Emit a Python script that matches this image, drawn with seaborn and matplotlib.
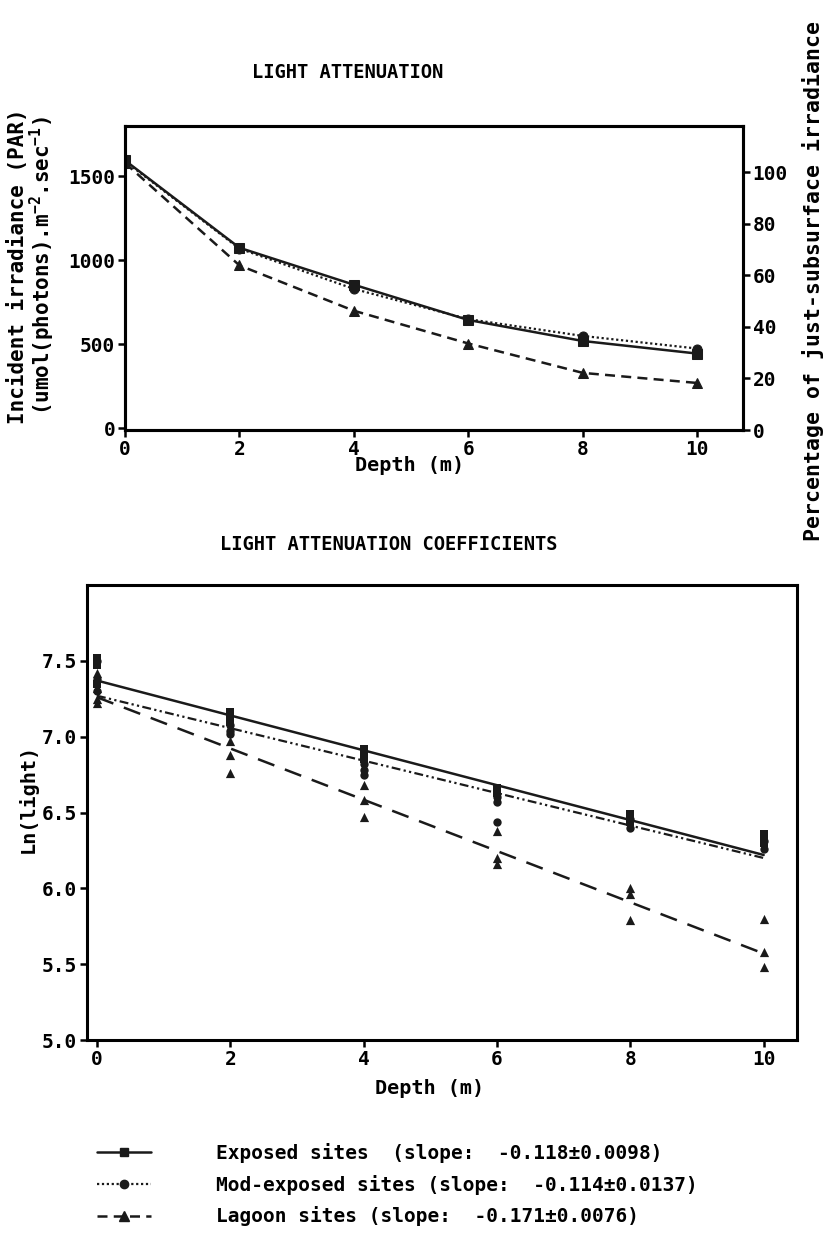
import seaborn as sns
import matplotlib.pyplot as plt
from matplotlib.lines import Line2D

# top panel: irradiance vs depth
depth = [0, 2, 4, 6, 8, 10]
exposed_par = [1595, 1075, 855, 645, 520, 445]
modexp_par = [1590, 1070, 830, 650, 550, 475]
lagoon_par = [1580, 970, 700, 505, 330, 270]

# bottom panel: ln(light) readings
exposed_depth = [0, 0, 0, 2, 2, 2, 4, 4, 4, 6, 6, 8, 8, 10, 10, 10]
exposed_ln = [7.52, 7.47, 7.35, 7.16, 7.13, 7.10, 6.92, 6.88, 6.85,
              6.66, 6.63, 6.49, 6.44, 6.36, 6.33, 6.30]
modexp_depth = [0, 0, 0, 2, 2, 2, 4, 4, 4, 6, 6, 6, 8, 8, 10, 10]
modexp_ln = [7.50, 7.38, 7.30, 7.08, 7.04, 7.02, 6.82, 6.78, 6.75,
             6.60, 6.57, 6.44, 6.46, 6.40, 6.31, 6.26]
lagoon_depth = [0, 0, 0, 0, 2, 2, 2, 4, 4, 4, 6, 6, 6, 8, 8, 8, 10, 10, 10]
lagoon_ln = [7.42, 7.32, 7.25, 7.22, 6.97, 6.88, 6.76, 6.68, 6.58, 6.47,
             6.38, 6.20, 6.16, 6.00, 5.96, 5.79, 5.80, 5.58, 5.48]

# fitted regression lines (end points)
fit_depth = [0, 10]
exposed_fit = [7.37, 6.22]
modexp_fit = [7.27, 6.20]
lagoon_fit = [7.26, 5.57]

legend_labels = ['Exposed sites  (slope:  -0.118\u00b10.0098)',
                 'Mod-exposed sites (slope:  -0.114\u00b10.0137)',
                 'Lagoon sites (slope:  -0.171\u00b10.0076)']

sns.set_theme(style='ticks')
plt.rcParams['font.family'] = ['DejaVu Sans Mono']
plt.rcParams['font.weight'] = 'bold'
plt.rcParams['axes.labelweight'] = 'bold'
plt.rcParams['mathtext.default'] = 'regular'
plt.rcParams['axes.linewidth'] = 2.2
plt.rcParams['xtick.major.width'] = 1.8
plt.rcParams['ytick.major.width'] = 1.8
plt.rcParams['xtick.major.size'] = 5
plt.rcParams['ytick.major.size'] = 5
for key in ['xtick.color', 'ytick.color', 'axes.edgecolor', 'text.color', 'axes.labelcolor']:
    plt.rcParams[key] = 'black'

fig = plt.figure(figsize=(8.27, 12.47), dpi=100)
W, H = 827, 1247

def px_axes(l, t, r, b):
    return fig.add_axes([l / W, 1 - b / H, (r - l) / W, (b - t) / H])

lab_size = 14.5
tick_size = 14

# ---- top chart ----
ax1 = px_axes(125, 126, 743, 430)
sns.lineplot(x=depth, y=exposed_par, ax=ax1, color='k', lw=1.8, marker='s', ms=6.5, mec='k')
sns.lineplot(x=depth, y=modexp_par, ax=ax1, color='k', lw=1.6, linestyle=(0, (1, 1.2)),
             marker='o', ms=6.5, mec='k')
sns.lineplot(x=depth, y=lagoon_par, ax=ax1, color='k', lw=1.8, linestyle=(0, (4, 2.5)),
             marker='^', ms=7, mec='k')
ax1.set_xlim(0, 10.8)
ax1.set_ylim(-10, 1800)
ax1.set_xticks(depth)
ax1.set_yticks([0, 500, 1000, 1500])
ax1.tick_params(labelsize=tick_size, pad=2)
ax1.set_xlabel('Depth (m)', fontsize=lab_size)
ax1.xaxis.set_label_coords(0.46, -0.085)
ax1.set_ylabel('Incident irradiance (PAR)\n(umol(photons).m$^{-2}$.sec$^{-1}$)',
               fontsize=15, linespacing=1.0)
ax1.yaxis.set_label_coords(-0.11, 0.54)

ax2 = ax1.twinx()
ax2.set_ylim(0, 118)
ax2.set_yticks([0, 20, 40, 60, 80, 100])
ax2.tick_params(labelsize=tick_size, pad=2)
ax2.set_ylabel('Percentage of just-subsurface irradiance', fontsize=15.5)
ax2.yaxis.set_label_coords(1.095, 0.49)

fig.text(348 / W, 1 - 72 / H, 'LIGHT ATTENUATION', ha='center', va='center', fontsize=13.5)

# ---- bottom chart ----
ax3 = px_axes(87, 585, 797, 1040)
sns.lineplot(x=fit_depth, y=exposed_fit, ax=ax3, color='k', lw=1.8)
sns.lineplot(x=fit_depth, y=modexp_fit, ax=ax3, color='k', lw=1.6,
             linestyle=(0, (4, 1.5, 1, 1.5, 1, 1.5)))
sns.lineplot(x=fit_depth, y=lagoon_fit, ax=ax3, color='k', lw=1.8, linestyle=(0, (7, 4.5)))
sns.scatterplot(x=exposed_depth, y=exposed_ln, ax=ax3, marker='s', color='k', s=36, linewidth=0)
sns.scatterplot(x=modexp_depth, y=modexp_ln, ax=ax3, marker='o', color='k', s=36, linewidth=0)
sns.scatterplot(x=lagoon_depth, y=lagoon_ln, ax=ax3, marker='^', color='k', s=44, linewidth=0)
ax3.set_xlim(-0.15, 10.5)
ax3.set_ylim(5.0, 8.0)
ax3.set_xticks(depth)
ax3.set_yticks([5.0, 5.5, 6.0, 6.5, 7.0, 7.5])
ax3.set_yticklabels(['5.0', '5.5', '6.0', '6.5', '7.0', '7.5'])
ax3.tick_params(labelsize=tick_size, pad=2)
ax3.set_xlabel('Depth (m)', fontsize=lab_size)
ax3.xaxis.set_label_coords(0.483, -0.085)
ax3.set_ylabel('Ln(light)', fontsize=lab_size)
ax3.yaxis.set_label_coords(-0.07, 0.53)

fig.text(389 / W, 1 - 545 / H, 'LIGHT ATTENUATION COEFFICIENTS', ha='center', va='center', fontsize=13.5)

# ---- legend ----
handles = [
    Line2D([], [], color='k', lw=1.8, marker='s', ms=6),
    Line2D([], [], color='k', lw=1.6, linestyle=(0, (1, 1.2)), marker='o', ms=6),
    Line2D([], [], color='k', lw=1.8, linestyle=(0, (4, 2.5)), marker='^', ms=6.5),
]
fig.legend(handles, legend_labels, loc='upper left', bbox_to_anchor=(97 / W, 1 - 1143 / H),
           frameon=False, fontsize=14, handlelength=2.8, handletextpad=3.3,
           labelspacing=0.6, borderpad=0, borderaxespad=0, numpoints=1)

plt.savefig('out.png', dpi=100)
